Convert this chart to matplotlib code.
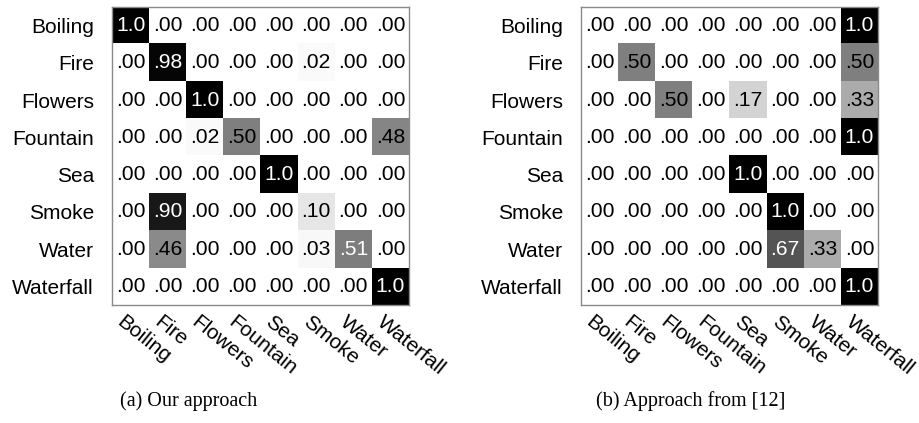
import numpy as np
import matplotlib
matplotlib.use("Agg")
from matplotlib import pyplot as plt

classes = ["Boiling", "Fire", "Flowers", "Fountain", "Sea", "Smoke", "Water", "Waterfall"]

# (a) our approach
ours = [
    [1.00, .00, .00, .00, .00, .00, .00, .00],
    [.00, .98, .00, .00, .00, .02, .00, .00],
    [.00, .00, 1.00, .00, .00, .00, .00, .00],
    [.00, .00, .02, .50, .00, .00, .00, .48],
    [.00, .00, .00, .00, 1.00, .00, .00, .00],
    [.00, .90, .00, .00, .00, .10, .00, .00],
    [.00, .46, .00, .00, .00, .03, .51, .00],
    [.00, .00, .00, .00, .00, .00, .00, 1.00],
]

# (b) approach from [12]
theirs = [
    [.00, .00, .00, .00, .00, .00, .00, 1.00],
    [.00, .50, .00, .00, .00, .00, .00, .50],
    [.00, .00, .50, .00, .17, .00, .00, .33],
    [.00, .00, .00, .00, .00, .00, .00, 1.00],
    [.00, .00, .00, .00, 1.00, .00, .00, .00],
    [.00, .00, .00, .00, .00, 1.00, .00, .00],
    [.00, .00, .00, .00, .00, .67, .33, .00],
    [.00, .00, .00, .00, .00, .00, .00, 1.00],
]

captions = ["(a) Our approach", "(b) Approach from [12]"]

plt.rcParams['font.family'] = ['Liberation Sans', 'DejaVu Sans']

W, H = 919, 423
fig = plt.figure(figsize=(W / 100, H / 100), dpi=100)


def fmt(v):
    if v >= 1:
        return "1.0"
    return f"{v:.2f}"[1:]


def draw(ax, mat):
    m = np.array(mat)
    ax.imshow(m, cmap="gray_r", vmin=0, vmax=1, aspect="auto", interpolation="nearest")
    n = len(classes)
    for i in range(n):
        for j in range(n):
            v = m[i, j]
            ax.text(j, i, fmt(v), ha="center", va="center", fontsize=15.2,
                    color="white" if v > 0.5 else "black")
    ax.set_yticks(range(n))
    ax.set_yticklabels(classes, fontsize=15)
    ax.set_xticks([])
    ax.tick_params(axis="y", length=0, pad=13)
    for j, name in enumerate(classes):
        ax.text(j - 0.14, n - 0.5 + 0.2, name, rotation=-39, rotation_mode="anchor",
                ha="left", va="top", fontsize=15, clip_on=False)
    for s in ax.spines.values():
        s.set_color("#8a8a8a")
        s.set_linewidth(1.0)


lefts = [112, 581]
for k, mat in enumerate([ours, theirs]):
    ax = fig.add_axes([lefts[k] / W, (H - 305) / H, 297 / W, 298 / H])
    draw(ax, mat)

fig.text(189 / W, 1 - 401 / H, captions[0], ha="center", va="center",
         fontsize=14.5, family="Liberation Serif")
fig.text(691 / W, 1 - 401 / H, captions[1], ha="center", va="center",
         fontsize=14.5, family="Liberation Serif")

fig.savefig("out.png", dpi=100)
